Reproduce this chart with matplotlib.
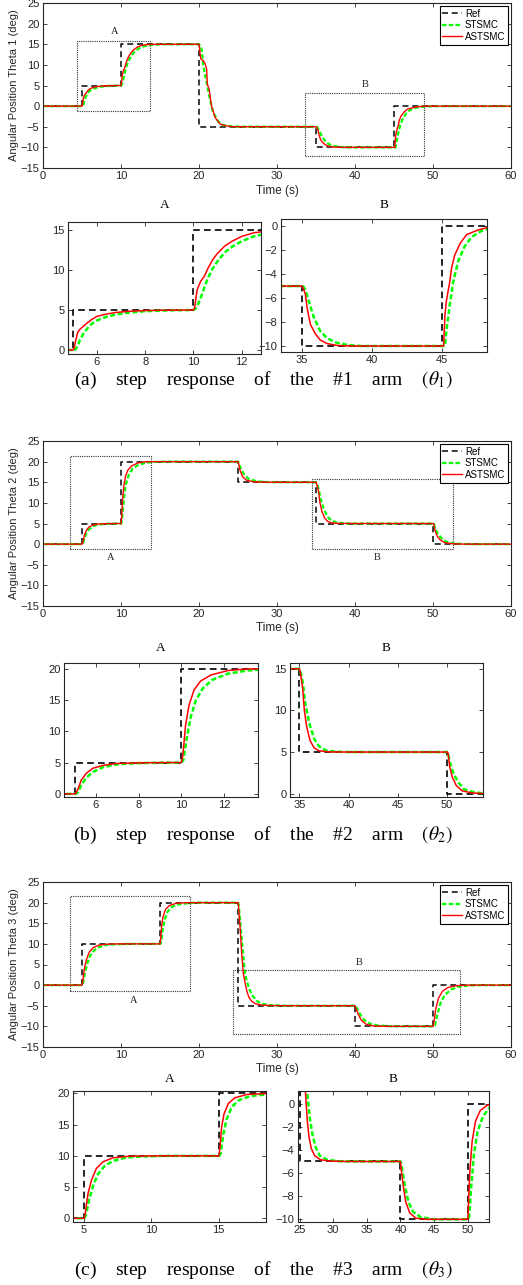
import matplotlib
matplotlib.use("Agg")
import matplotlib.pyplot as plt
from matplotlib.patches import Rectangle

plt.rcParams['font.family'] = ['Liberation Sans', 'DejaVu Sans']
plt.rcParams['mathtext.fontset'] = 'stix'

# ---------------- data ----------------
ref_times = [0, 5, 10, 20, 35, 45, 60]
ref1_vals = [0, 5, 15, -5, -10, 0, 0]
ref2_times = [0, 5, 10, 25, 35, 50, 60]
ref2_vals = [0, 5, 20, 15, 5, 0, 0]
ref3_times = [0, 5, 15, 25, 40, 50, 60]
ref3_vals = [0, 10, 20, -5, -10, 0, 0]

ast1 = [(0, 0), (5.0, 0), (5.05, 0.2), (5.1, 0.9), (5.2, 2.2), (5.3, 2.6), (5.45, 3.0), (5.6, 3.4),
        (5.8, 3.85), (6.0, 4.2), (6.4, 4.5), (6.8, 4.7), (7.4, 4.85), (8.0, 4.93), (9.0, 4.98), (10.0, 5.0),
        (10.05, 5.3), (10.15, 7.5), (10.3, 8.6), (10.45, 9.2), (10.6, 10.2), (10.8, 11.3), (11.0, 12.1),
        (11.3, 13.0), (11.6, 13.6), (12.0, 14.2), (12.5, 14.65), (13.0, 14.85), (14.0, 14.98), (16.0, 15), (20.0, 15),
        (20.05, 14.5), (20.15, 12.5), (20.25, 11.4), (20.55, 11.0), (20.8, 10.2), (20.98, 9.0), (21.07, 5.3),
        (21.3, 4.1), (21.6, 0.1), (22.05, -2.7), (22.7, -4.35), (23.5, -4.8), (24.4, -5.0), (26, -5.0), (35.0, -5.0),
        (35.1, -5.2), (35.24, -5.7), (35.36, -6.8), (35.6, -8.2), (35.96, -9.0), (36.3, -9.5), (36.8, -9.8),
        (37.5, -9.95), (38.5, -10), (45.0, -10),
        (45.1, -10), (45.2, -7.4), (45.3, -6.25), (45.55, -4.6), (45.67, -3.5), (45.9, -2.4), (46.3, -1.4),
        (46.75, -0.7), (47.6, -0.3), (48.3, -0.1), (49.5, 0), (60, 0)]

st1 = [(0, 0), (5.0, 0), (5.1, 0.05), (5.2, 0.5), (5.3, 1.3), (5.45, 2.1), (5.6, 2.7), (5.8, 3.3), (6.0, 3.7),
       (6.4, 4.15), (6.8, 4.45), (7.4, 4.7), (8.0, 4.85), (9.0, 4.95), (10.0, 5.0),
       (10.1, 5.2), (10.2, 5.8), (10.3, 6.5), (10.45, 7.8), (10.6, 9.0), (10.8, 10.2), (11.0, 11.1), (11.3, 12.2),
       (11.6, 12.9), (12.0, 13.6), (12.5, 14.2), (13.0, 14.55), (14.0, 14.85), (15.0, 14.97), (20.0, 15),
       (20.1, 14.8), (20.34, 13.8), (20.55, 9.8), (20.98, 5.7), (21.4, 1.7), (21.8, -1.5), (22.5, -3.8),
       (23.1, -4.6), (24.4, -4.95), (26, -5), (35.0, -5),
       (35.1, -5.05), (35.24, -5.3), (35.48, -6.25), (35.84, -7.6), (36.3, -8.75), (36.8, -9.35), (37.4, -9.7),
       (38.2, -9.9), (39.2, -10), (45.0, -10),
       (45.2, -10), (45.3, -8.75), (45.55, -6.5), (45.8, -4.6), (46.15, -2.9), (46.6, -1.7), (47.1, -0.9),
       (47.8, -0.4), (48.3, -0.2), (49.5, -0.05), (51, 0), (60, 0)]

ast2 = [(0, 0), (5.0, 0), (5.05, 0.05), (5.16, 0.8), (5.31, 2.2), (5.55, 3.3), (5.86, 4.1), (6.33, 4.55),
        (6.96, 4.85), (7.9, 4.95), (9, 5), (10, 5),
        (10.05, 5.6), (10.1, 7.1), (10.2, 10.9), (10.36, 14.1), (10.6, 16.6), (10.9, 18.0), (11.4, 19.0),
        (12.2, 19.7), (13.1, 19.95), (15, 20), (25, 20),
        (25.04, 19.9), (25.26, 17.9), (25.6, 16.3), (26.1, 15.5), (27, 15.1), (28.5, 15), (35, 15),
        (35.1, 14.6), (35.34, 12.6), (35.5, 10.1), (35.74, 8.06), (36.08, 6.4), (36.5, 5.5), (37, 5.15),
        (38, 5.02), (40, 5), (50, 5),
        (50.1, 4.9), (50.27, 3.2), (50.54, 1.95), (50.95, 0.95), (51.55, 0.33), (52.6, 0.08), (54, 0), (60, 0)]

st2 = [(0, 0), (5.0, 0), (5.08, 0.02), (5.16, 0.3), (5.31, 1.4), (5.55, 2.6), (5.86, 3.5), (6.33, 4.25),
       (6.96, 4.7), (7.9, 4.9), (9, 4.97), (10, 5),
       (10.1, 5.4), (10.25, 8.7), (10.44, 12.2), (10.68, 14.9), (11.0, 16.8), (11.45, 18.2), (12.2, 19.2),
       (13.1, 19.7), (14, 19.9), (16, 20), (25, 20),
       (25.08, 19.8), (25.26, 18.7), (25.7, 17.1), (26.3, 15.9), (27.4, 15.2), (29, 15.02), (35, 15),
       (35.1, 14.8), (35.34, 13.4), (35.6, 10.9), (36.0, 8.5), (36.5, 6.6), (37.0, 5.7), (37.7, 5.2),
       (38.7, 5.05), (40, 5), (50, 5),
       (50.1, 4.95), (50.27, 3.8), (50.6, 2.6), (51.05, 1.5), (51.7, 0.55), (52.6, 0.2), (53.6, 0.05),
       (55, 0), (60, 0)]

ast3 = [(0, 0), (5.0, 0), (5.05, 0.3), (5.12, 1.3), (5.3, 4.0), (5.55, 6.1), (5.92, 8.0), (6.41, 9.05),
        (7.16, 9.7), (8.4, 9.95), (10, 10), (15, 10),
        (15.05, 10.4), (15.1, 11.4), (15.22, 14.6), (15.4, 16.7), (15.72, 18.4), (16.2, 19.3), (17.1, 19.85),
        (18.6, 20), (25, 20),
        (25.04, 19.8), (25.26, 14.2), (25.47, 7.7), (25.68, 2.8), (25.9, 0.6), (26.14, -1.5), (26.39, -2.9),
        (26.74, -3.9), (27.23, -4.5), (28.1, -4.85), (29.6, -4.97), (32, -5), (40, -5),
        (40.05, -5.2), (40.15, -5.8), (40.45, -7.2), (40.8, -8.5), (41.4, -9.45), (42.3, -9.9), (44, -10),
        (50, -10),
        (50.05, -9.9), (50.1, -9.2), (50.35, -5.8), (50.7, -3.2), (51.2, -1.5), (51.9, -0.6), (52.9, -0.15),
        (54.5, 0), (60, 0)]

st3 = [(0, 0), (5.0, 0), (5.08, 0.2), (5.17, 0.8), (5.37, 2.9), (5.67, 5.2), (6.04, 7.1), (6.54, 8.4),
       (7.16, 9.2), (8.15, 9.75), (9.4, 9.9), (11, 10), (15, 10),
       (15.08, 10.1), (15.15, 10.4), (15.35, 13.5), (15.6, 15.9), (15.97, 17.8), (16.47, 18.9), (17.35, 19.6),
       (18.6, 19.85), (20, 20), (25, 20),
       (25.08, 19.6), (25.26, 15.8), (25.6, 8.5), (25.9, 2.8), (26.14, 0.9), (26.5, -1.2), (26.9, -2.65),
       (27.4, -3.8), (28.0, -4.5), (29.1, -4.85), (30.6, -4.97), (33, -5), (40, -5),
       (40.1, -5.1), (40.3, -5.8), (40.7, -7.2), (41.2, -8.5), (41.9, -9.35), (43, -9.8), (45, -10), (50, -10),
       (50.1, -9.95), (50.25, -9.8), (50.55, -7.2), (50.95, -4.4), (51.5, -2.4), (52.3, -1.1), (53.2, -0.4),
       (54.5, -0.1), (56, 0), (60, 0)]

series_names = ['Ref', 'STSMC', 'ASTSMC']
ylabels = ['Angular Position Theta 1 (deg)', 'Angular Position Theta 2 (deg)', 'Angular Position Theta 3 (deg)']
captions = [r'(a)    step    response    of    the    #1    arm    $(\theta_1)$',
            r'(b)    step    response    of    the    #2    arm    $(\theta_2)$',
            r'(c)    step    response    of    the    #3    arm    $(\theta_3)$']

# ---------------- layout ----------------
W, H = 523, 1285
fig = plt.figure(figsize=(W / 100, H / 100), dpi=100)

def ax_px(l, r, t, b):
    return fig.add_axes([l / W, 1 - b / H, (r - l) / W, (b - t) / H])

GRAY = '#262626'
SERIF = ['Liberation Serif', 'DejaVu Serif']

def style(ax, fs=8):
    for s in ax.spines.values():
        s.set_color(GRAY)
        s.set_linewidth(0.8)
    ax.tick_params(direction='in', top=True, right=True, length=3, width=0.6,
                   colors=GRAY, labelsize=fs, labelcolor=GRAY, pad=2.5)

def draw(ax, rt, rv, st, ast, lwscale=1.0):
    ax.plot(rt, rv, drawstyle='steps-post', color='black', lw=1.2 * lwscale,
            dashes=(4, 2.5), label=series_names[0])
    ax.plot([p[0] for p in st], [p[1] for p in st], color='#00ff00', lw=1.8 * lwscale,
            dashes=(2, 1), label=series_names[1])
    ax.plot([p[0] for p in ast], [p[1] for p in ast], color='#ff0000', lw=1.1 * lwscale,
            label=series_names[2])

panels = [
    dict(ref=(ref_times, ref1_vals), st=st1, ast=ast1, top=3, bot=168, tl=191, cap=380,
         boxes=[((4.3, -1.3), 9.4, 17.2, 'A', (9.15, 18.2)), ((33.6, -12.2), 15.2, 15.4, 'B', (41.3, 5.2))],
         subA=dict(pos=(68, 261, 222, 354), xl=(4.8, 12.8), yl=(-0.5, 16), xt=[6, 8, 10, 12], yt=[0, 5, 10, 15], ty=205),
         subB=dict(pos=(281, 487, 219, 352), xl=(33.5, 48.2), yl=(-10.5, 0.6), xt=[35, 40, 45],
                   yt=[-10, -8, -6, -4, -2, 0], ty=205)),
    dict(ref=(ref2_times, ref2_vals), st=st2, ast=ast2, top=441, bot=606, tl=628, cap=835,
         boxes=[((3.5, -1.2), 10.4, 22.65, 'A', (8.7, -3.2)), ((34.5, -1.2), 18.1, 17.0, 'B', (42.8, -3.2))],
         subA=dict(pos=(64, 258, 663, 797), xl=(4.5, 13.6), yl=(-0.5, 20.9), xt=[6, 8, 10, 12],
                   yt=[0, 5, 10, 15, 20], ty=648),
         subB=dict(pos=(290, 483, 663, 797), xl=(34.05, 53.65), yl=(-0.4, 15.7), xt=[35, 40, 45, 50],
                   yt=[0, 5, 10, 15], ty=648)),
    dict(ref=(ref3_times, ref3_vals), st=st3, ast=ast3, top=882, bot=1047, tl=1069, cap=1270,
         boxes=[((3.4, -1.4), 15.5, 23.1, 'A', (11.6, -3.8)), ((24.3, -11.8), 29.2, 15.45, 'B', (40.5, 5.4))],
         subA=dict(pos=(73, 266, 1091, 1222), xl=(4.18, 18.52), yl=(-0.6, 20.4), xt=[5, 10, 15],
                   yt=[0, 5, 10, 15, 20], ty=1079),
         subB=dict(pos=(298, 489, 1091, 1222), xl=(24.75, 53.2), yl=(-10.23, 1.09),
                   xt=[25, 30, 35, 40, 45, 50], yt=[-10, -8, -6, -4, -2, 0], ty=1079)),
]

for i, p in enumerate(panels):
    ax = ax_px(43, 511, p['top'], p['bot'])
    draw(ax, p['ref'][0], p['ref'][1], p['st'], p['ast'], lwscale=0.9)
    ax.set_xlim(0, 60)
    ax.set_ylim(-15, 25)
    ax.set_xticks(range(0, 61, 10))
    ax.set_yticks(range(-15, 26, 5))
    style(ax, 8)
    ax.set_ylabel(ylabels[i], fontsize=8, color=GRAY, labelpad=1)
    for (xy, w, h, lab, lp) in p['boxes']:
        ax.add_patch(Rectangle(xy, w, h, fill=False, ls=(0, (1, 1)), lw=0.8, edgecolor='#333333'))
        ax.text(lp[0], lp[1], lab, fontsize=7.5, family=SERIF, ha='center', va='center', color='#222222')
    leg = ax.legend(loc='upper right', fontsize=7, handlelength=2.0, handletextpad=0.3,
                    borderpad=0.3, labelspacing=0.15, fancybox=False, framealpha=1,
                    borderaxespad=0.3)
    leg.get_frame().set_edgecolor('black')
    leg.get_frame().set_linewidth(0.8)
    fig.text(277 / W, 1 - p['tl'] / H, 'Time (s)', fontsize=8.5, color=GRAY, ha='center', va='center')

    for key, lab in (('subA', 'A'), ('subB', 'B')):
        s = p[key]
        l, r, t, b = s['pos']
        sx = ax_px(l, r, t, b)
        draw(sx, p['ref'][0], p['ref'][1], p['st'], p['ast'], lwscale=1.0)
        sx.set_xlim(*s['xl'])
        sx.set_ylim(*s['yl'])
        sx.set_xticks(s['xt'])
        sx.set_yticks(s['yt'])
        style(sx, 8)
        fig.text((l + r) / 2 / W, 1 - s['ty'] / H, lab, fontsize=9.5, family=SERIF,
                 ha='center', va='center')

    fig.text(263 / W, 1 - p['cap'] / H, captions[i], fontsize=14, family=SERIF,
             ha='center', va='center')

fig.savefig('out.png', dpi=100)
